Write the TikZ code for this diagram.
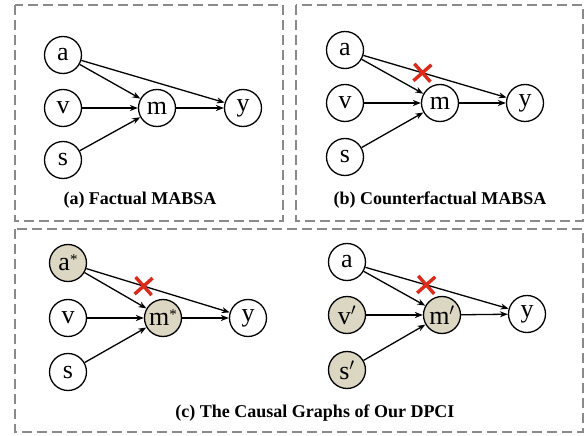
\documentclass[tikz,border=0pt]{standalone}
\usepackage{fontspec}
\setmainfont{Liberation Serif}
\newfontfamily\tnr{Liberation Serif}
\usetikzlibrary{arrows.meta,calc}
\definecolor{shade}{HTML}{DCD7C3}
\definecolor{xred}{HTML}{DA2A1C}
\definecolor{boxgray}{HTML}{8A8A8A}
\tikzset{
  var/.style={circle, draw=black, line width=1.3pt, minimum size=37pt, inner sep=0pt, font=\tnr\fontsize{26}{26}\selectfont, fill=white},
  shaded/.style={var, fill=shade},
  edge/.style={line width=1.3pt, -{Stealth[length=8pt,width=6pt]}},
  xmark/.style={draw=xred, line width=3.4pt},
  panel/.style={draw=boxgray, line width=2pt, dash pattern=on 10pt off 5pt},
  caption/.style={font=\tnr\fontsize{18}{18}\selectfont\bfseries}
}
\begin{document}
\begin{tikzpicture}[x=1pt,y=-1pt]
\useasboundingbox (0,0) rectangle (587,436);
% panels
\draw[panel] (15,5) rectangle (283,221);
\draw[panel] (296,5) rectangle (583,221);
\draw[panel] (15,229) rectangle (583,432);

% (a)
\node[var] (a1) at (63,55) {a};
\node[var] (v1) at (63,108) {v};
\node[var] (s1) at (63,160) {s};
\node[var] (m1) at (157,108) {m};
\node[var] (y1) at (243,108) {y};
\draw[edge] (a1) -- (m1);
\draw[edge] (v1) -- (m1);
\draw[edge] (s1) -- (m1);
\draw[edge] (m1) -- (y1);
\draw[edge] (a1) -- (y1);
\node[caption] (ca) at (140,200) {(a) Factual MABSA};

% (b)
\node[var] (a2) at (345,50) {a};
\node[var] (v2) at (345,103) {v};
\node[var] (s2) at (345,157) {s};
\node[var] (m2) at (440,103) {m};
\node[var] (y2) at (525,103) {y};
\draw[edge] (a2) -- (m2);
\draw[edge] (v2) -- (m2);
\draw[edge] (s2) -- (m2);
\draw[edge] (m2) -- (y2);
\draw[edge] (a2) -- (y2);
\coordinate (x2) at ($(a2)!0.43!(y2)$);
\draw[xmark, shift={(x2)}] (-8,-9) -- (8,9) (-9,8) -- (9,-8);
\node[caption] (cb) at (440,200) {(b) Counterfactual MABSA};

% (c) left
\node[shaded] (a3) at (68,263) {a\raisebox{6pt}{\fontsize{15}{15}\selectfont *}};
\node[var] (v3) at (68,318) {v};
\node[var] (s3) at (68,372) {s};
\node[shaded] (m3) at (163,318) {m\raisebox{6pt}{\fontsize{15}{15}\selectfont *}};
\node[var] (y3) at (248,318) {y};
\draw[edge] (a3) -- (m3);
\draw[edge] (v3) -- (m3);
\draw[edge] (s3) -- (m3);
\draw[edge] (m3) -- (y3);
\draw[edge] (a3) -- (y3);
\coordinate (x3) at ($(a3)!0.42!(y3)$);
\draw[xmark, shift={(x3)}] (-8,-9) -- (8,9) (-9,8) -- (9,-8);

% (c) right
\node[var] (a4) at (347,262) {a};
\node[shaded] (v4) at (347,315) {v$'$};
\node[shaded] (s4) at (347,370) {s$'$};
\node[shaded] (m4) at (442,315) {m$'$};
\node[var] (y4) at (527,314) {y};
\draw[edge] (a4) -- (m4);
\draw[edge] (v4) -- (m4);
\draw[edge] (s4) -- (m4);
\draw[edge] (m4) -- (y4);
\draw[edge] (a4) -- (y4);
\coordinate (x4) at ($(a4)!0.44!(y4)$);
\draw[xmark, shift={(x4)}] (-8,-9) -- (8,9) (-9,8) -- (9,-8);

\node[caption] (cc) at (315,413) {(c) The Causal Graphs of Our DPCI};
\end{tikzpicture}
\end{document}
